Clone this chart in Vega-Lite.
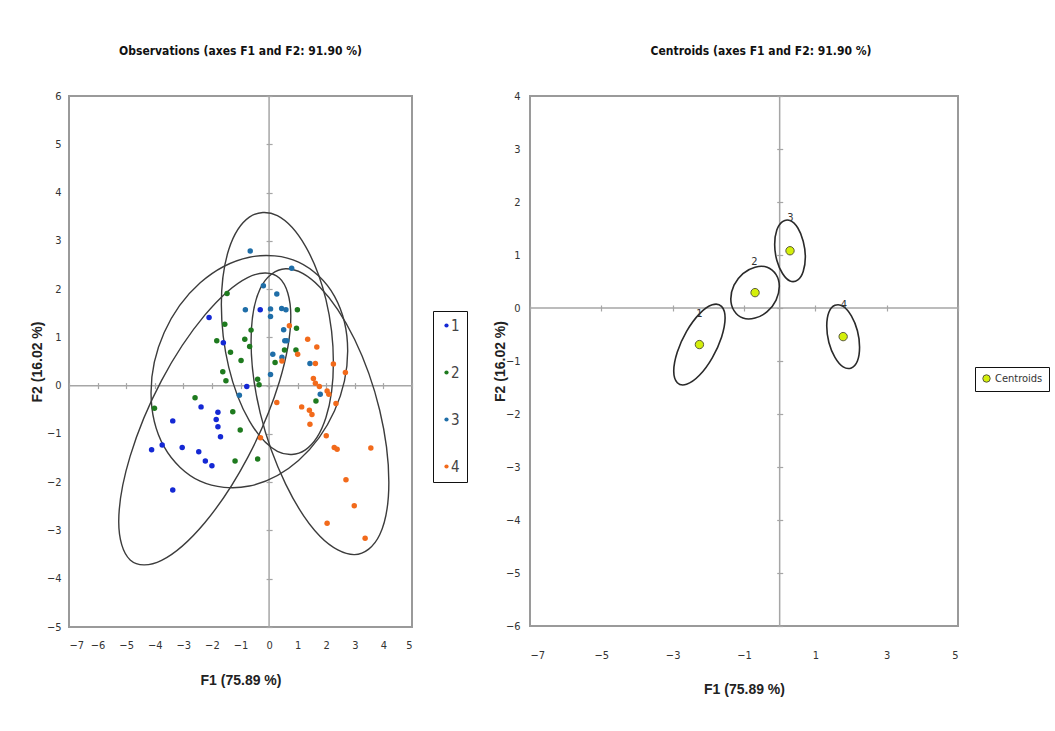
{
  "$schema": "https://vega.github.io/schema/vega-lite/v6.json",
  "background": "white",
  "padding": {"left": 29, "top": 44, "right": 5, "bottom": 5},
  "spacing": 78,
  "config": {
    "font": "'DejaVu Sans Condensed', 'Liberation Sans', sans-serif",
    "view": {"stroke": "#9a9a9a", "strokeWidth": 2},
    "axis": {"grid": false, "labelFont": "'DejaVu Sans Condensed', 'Liberation Sans', sans-serif", "labelFontSize": 11, "labelColor": "#333333", "titleFont": "'Liberation Sans', sans-serif", "titleFontSize": 14, "titleFontWeight": "bold", "titleColor": "#222222"},
    "legend": {"labelFont": "'DejaVu Sans Condensed', 'Liberation Sans', sans-serif"},
    "title": {"font": "'DejaVu Sans Condensed', 'Liberation Sans', sans-serif", "fontSize": 12, "fontWeight": "bold", "color": "#111111"}
  },
  "datasets": {
    "obs": [
      {"x": -0.31, "y": 1.57, "c": "1"}, {"x": -2.10, "y": 1.41, "c": "1"}, {"x": -1.60, "y": 0.89, "c": "1"}, {"x": -0.78, "y": -0.02, "c": "1"},
      {"x": -2.38, "y": -0.44, "c": "1"}, {"x": -1.79, "y": -0.55, "c": "1"}, {"x": -1.85, "y": -0.70, "c": "1"}, {"x": -1.79, "y": -0.85, "c": "1"},
      {"x": -3.37, "y": -0.73, "c": "1"}, {"x": -1.70, "y": -1.06, "c": "1"}, {"x": -4.11, "y": -1.33, "c": "1"}, {"x": -3.74, "y": -1.23, "c": "1"},
      {"x": -3.04, "y": -1.28, "c": "1"}, {"x": -2.46, "y": -1.37, "c": "1"}, {"x": -2.23, "y": -1.56, "c": "1"}, {"x": -2.00, "y": -1.66, "c": "1"},
      {"x": -3.37, "y": -2.16, "c": "1"},
      {"x": -1.47, "y": 1.91, "c": "2"}, {"x": -1.55, "y": 1.27, "c": "2"}, {"x": -1.83, "y": 0.93, "c": "2"}, {"x": -0.63, "y": 1.15, "c": "2"},
      {"x": -0.85, "y": 0.96, "c": "2"}, {"x": -0.68, "y": 0.81, "c": "2"}, {"x": -1.35, "y": 0.69, "c": "2"}, {"x": -0.98, "y": 0.52, "c": "2"},
      {"x": -1.62, "y": 0.29, "c": "2"}, {"x": -1.51, "y": 0.10, "c": "2"}, {"x": -0.40, "y": 0.13, "c": "2"}, {"x": -0.35, "y": 0.02, "c": "2"},
      {"x": 0.99, "y": 1.57, "c": "2"}, {"x": 0.96, "y": 1.19, "c": "2"}, {"x": 0.54, "y": 0.74, "c": "2"}, {"x": 0.94, "y": 0.74, "c": "2"},
      {"x": 0.21, "y": 0.48, "c": "2"}, {"x": 1.64, "y": -0.32, "c": "2"}, {"x": -0.40, "y": -1.52, "c": "2"}, {"x": -2.59, "y": -0.25, "c": "2"},
      {"x": -4.01, "y": -0.47, "c": "2"}, {"x": -1.27, "y": -0.54, "c": "2"}, {"x": -1.01, "y": -0.92, "c": "2"}, {"x": -1.19, "y": -1.56, "c": "2"},
      {"x": -0.66, "y": 2.79, "c": "3"}, {"x": -0.83, "y": 1.57, "c": "3"}, {"x": 0.79, "y": 2.43, "c": "3"}, {"x": -0.20, "y": 2.07, "c": "3"},
      {"x": 0.27, "y": 1.90, "c": "3"}, {"x": 0.05, "y": 1.59, "c": "3"}, {"x": 0.05, "y": 1.43, "c": "3"}, {"x": 0.44, "y": 1.60, "c": "3"},
      {"x": 0.59, "y": 1.57, "c": "3"}, {"x": 0.51, "y": 1.16, "c": "3"}, {"x": 0.55, "y": 0.93, "c": "3"}, {"x": 0.62, "y": 0.93, "c": "3"},
      {"x": 0.13, "y": 0.65, "c": "3"}, {"x": 0.45, "y": 0.59, "c": "3"}, {"x": 1.43, "y": 0.46, "c": "3"}, {"x": 0.05, "y": 0.23, "c": "3"},
      {"x": 1.79, "y": -0.18, "c": "3"}, {"x": -1.04, "y": -0.20, "c": "3"},
      {"x": 0.71, "y": 1.24, "c": "4"}, {"x": 1.35, "y": 0.96, "c": "4"}, {"x": 1.67, "y": 0.80, "c": "4"}, {"x": 1.00, "y": 0.65, "c": "4"},
      {"x": 0.45, "y": 0.51, "c": "4"}, {"x": 1.62, "y": 0.46, "c": "4"}, {"x": 2.25, "y": 0.45, "c": "4"}, {"x": 2.67, "y": 0.27, "c": "4"},
      {"x": 1.55, "y": 0.15, "c": "4"}, {"x": 1.62, "y": 0.05, "c": "4"}, {"x": 1.76, "y": -0.02, "c": "4"}, {"x": 2.03, "y": -0.11, "c": "4"},
      {"x": 2.09, "y": -0.18, "c": "4"}, {"x": 2.34, "y": -0.37, "c": "4"}, {"x": 0.27, "y": -0.35, "c": "4"}, {"x": 1.14, "y": -0.44, "c": "4"},
      {"x": 1.41, "y": -0.51, "c": "4"}, {"x": 1.50, "y": -0.60, "c": "4"}, {"x": 1.43, "y": -0.80, "c": "4"}, {"x": 2.00, "y": -1.04, "c": "4"},
      {"x": -0.30, "y": -1.08, "c": "4"}, {"x": 2.28, "y": -1.28, "c": "4"}, {"x": 2.38, "y": -1.32, "c": "4"}, {"x": 3.56, "y": -1.29, "c": "4"},
      {"x": 2.69, "y": -1.95, "c": "4"}, {"x": 2.98, "y": -2.49, "c": "4"}, {"x": 2.03, "y": -2.85, "c": "4"}, {"x": 3.36, "y": -3.16, "c": "4"}
    ],
    "ellL": [
      {"e": "1", "i": 0, "x": 0.76, "y": 1.44}, {"e": "1", "i": 1, "x": 0.36, "y": 0.08}, {"e": "1", "i": 2, "x": -0.75, "y": -1.49}, {"e": "1", "i": 3, "x": -2.25, "y": -2.84},
      {"e": "1", "i": 4, "x": -3.76, "y": -3.62}, {"e": "1", "i": 5, "x": -4.86, "y": -3.61}, {"e": "1", "i": 6, "x": -5.26, "y": -2.82}, {"e": "1", "i": 7, "x": -4.86, "y": -1.46},
      {"e": "1", "i": 8, "x": -3.76, "y": 0.11}, {"e": "1", "i": 9, "x": -2.25, "y": 1.46}, {"e": "1", "i": 10, "x": -0.75, "y": 2.24}, {"e": "1", "i": 11, "x": 0.36, "y": 2.23},
      {"e": "2", "i": 0, "x": 2.75, "y": 0.72}, {"e": "2", "i": 1, "x": 2.29, "y": -0.52}, {"e": "2", "i": 2, "x": 1.03, "y": -1.55}, {"e": "2", "i": 3, "x": -0.69, "y": -2.08},
      {"e": "2", "i": 4, "x": -2.41, "y": -1.98}, {"e": "2", "i": 5, "x": -3.67, "y": -1.27}, {"e": "2", "i": 6, "x": -4.13, "y": -0.14}, {"e": "2", "i": 7, "x": -3.67, "y": 1.10},
      {"e": "2", "i": 8, "x": -2.41, "y": 2.13}, {"e": "2", "i": 9, "x": -0.69, "y": 2.66}, {"e": "2", "i": 10, "x": 1.03, "y": 2.56}, {"e": "2", "i": 11, "x": 2.29, "y": 1.85},
      {"e": "3", "i": 0, "x": 2.25, "y": 0.48}, {"e": "3", "i": 1, "x": 1.99, "y": -0.66}, {"e": "3", "i": 2, "x": 1.27, "y": -1.33}, {"e": "3", "i": 3, "x": 0.29, "y": -1.36},
      {"e": "3", "i": 4, "x": -0.69, "y": -0.73}, {"e": "3", "i": 5, "x": -1.41, "y": 0.38}, {"e": "3", "i": 6, "x": -1.67, "y": 1.68}, {"e": "3", "i": 7, "x": -1.41, "y": 2.82},
      {"e": "3", "i": 8, "x": -0.69, "y": 3.49}, {"e": "3", "i": 9, "x": 0.29, "y": 3.52}, {"e": "3", "i": 10, "x": 1.27, "y": 2.89}, {"e": "3", "i": 11, "x": 1.99, "y": 1.78},
      {"e": "4", "i": 0, "x": 4.19, "y": -2.00}, {"e": "4", "i": 1, "x": 3.87, "y": -3.09}, {"e": "4", "i": 2, "x": 2.99, "y": -3.50}, {"e": "4", "i": 3, "x": 1.78, "y": -3.12},
      {"e": "4", "i": 4, "x": 0.58, "y": -2.04}, {"e": "4", "i": 5, "x": -0.31, "y": -0.57}, {"e": "4", "i": 6, "x": -0.63, "y": 0.92}, {"e": "4", "i": 7, "x": -0.31, "y": 2.01},
      {"e": "4", "i": 8, "x": 0.58, "y": 2.42}, {"e": "4", "i": 9, "x": 1.78, "y": 2.04}, {"e": "4", "i": 10, "x": 2.99, "y": 0.96}, {"e": "4", "i": 11, "x": 3.87, "y": -0.51}
    ],
    "ellR": [
      {"e": "1", "i": 0, "x": -1.53, "y": -0.19}, {"e": "1", "i": 1, "x": -1.63, "y": -0.55}, {"e": "1", "i": 2, "x": -1.89, "y": -0.94}, {"e": "1", "i": 3, "x": -2.25, "y": -1.27},
      {"e": "1", "i": 4, "x": -2.61, "y": -1.44}, {"e": "1", "i": 5, "x": -2.87, "y": -1.41}, {"e": "1", "i": 6, "x": -2.97, "y": -1.19}, {"e": "1", "i": 7, "x": -2.87, "y": -0.83},
      {"e": "1", "i": 8, "x": -2.61, "y": -0.44}, {"e": "1", "i": 9, "x": -2.25, "y": -0.11}, {"e": "1", "i": 10, "x": -1.89, "y": 0.06}, {"e": "1", "i": 11, "x": -1.63, "y": 0.03},
      {"e": "2", "i": 0, "x": -0.01, "y": 0.41}, {"e": "2", "i": 1, "x": -0.10, "y": 0.15}, {"e": "2", "i": 2, "x": -0.35, "y": -0.07}, {"e": "2", "i": 3, "x": -0.69, "y": -0.19},
      {"e": "2", "i": 4, "x": -1.03, "y": -0.19}, {"e": "2", "i": 5, "x": -1.28, "y": -0.05}, {"e": "2", "i": 6, "x": -1.37, "y": 0.17}, {"e": "2", "i": 7, "x": -1.28, "y": 0.43},
      {"e": "2", "i": 8, "x": -1.03, "y": 0.65}, {"e": "2", "i": 9, "x": -0.69, "y": 0.77}, {"e": "2", "i": 10, "x": -0.35, "y": 0.77}, {"e": "2", "i": 11, "x": -0.10, "y": 0.63},
      {"e": "3", "i": 0, "x": 0.72, "y": 0.96}, {"e": "3", "i": 1, "x": 0.66, "y": 0.69}, {"e": "3", "i": 2, "x": 0.51, "y": 0.53}, {"e": "3", "i": 3, "x": 0.29, "y": 0.51},
      {"e": "3", "i": 4, "x": 0.08, "y": 0.65}, {"e": "3", "i": 5, "x": -0.08, "y": 0.90}, {"e": "3", "i": 6, "x": -0.14, "y": 1.20}, {"e": "3", "i": 7, "x": -0.08, "y": 1.47},
      {"e": "3", "i": 8, "x": 0.08, "y": 1.63}, {"e": "3", "i": 9, "x": 0.29, "y": 1.65}, {"e": "3", "i": 10, "x": 0.51, "y": 1.51}, {"e": "3", "i": 11, "x": 0.66, "y": 1.26},
      {"e": "4", "i": 0, "x": 2.24, "y": -0.74}, {"e": "4", "i": 1, "x": 2.18, "y": -1.00}, {"e": "4", "i": 2, "x": 2.01, "y": -1.13}, {"e": "4", "i": 3, "x": 1.78, "y": -1.11},
      {"e": "4", "i": 4, "x": 1.55, "y": -0.93}, {"e": "4", "i": 5, "x": 1.38, "y": -0.65}, {"e": "4", "i": 6, "x": 1.32, "y": -0.34}, {"e": "4", "i": 7, "x": 1.38, "y": -0.08},
      {"e": "4", "i": 8, "x": 1.55, "y": 0.05}, {"e": "4", "i": 9, "x": 1.78, "y": 0.03}, {"e": "4", "i": 10, "x": 2.01, "y": -0.15}, {"e": "4", "i": 11, "x": 2.18, "y": -0.43}
    ],
    "cent": [
      {"x": -2.25, "y": -0.69, "s": "Centroids"}, {"x": -0.69, "y": 0.29, "s": "Centroids"},
      {"x": 0.29, "y": 1.08, "s": "Centroids"}, {"x": 1.78, "y": -0.54, "s": "Centroids"}
    ],
    "lab": [
      {"t": "1", "x": -2.25, "y": -0.11}, {"t": "2", "x": -0.71, "y": 0.86},
      {"t": "3", "x": 0.30, "y": 1.70}, {"t": "4", "x": 1.80, "y": 0.05}
    ]
  },
  "hconcat": [
    {
      "width": 343,
      "height": 531,
      "title": {"text": "Observations (axes F1 and F2: 91.90 %)", "offset": 32},
      "resolve": {"axis": {"x": "independent", "y": "independent"}},
      "layer": [
        {
          "data": {"values": [{}]},
          "mark": {"type": "rule", "color": "#a6a6a6", "strokeWidth": 1.5},
          "encoding": {
            "x": {"datum": 0, "type": "quantitative", "scale": {"domain": [-7, 5], "nice": false, "zero": false},
              "axis": {"orient": "bottom", "offset": -244.4, "labels": false, "domain": false, "ticks": true, "tickSize": 6, "tickColor": "#a6a6a6", "tickWidth": 1.2, "values": [-7, -6, -5, -4, -3, -2, -1, 0, 1, 2, 3, 4, 5], "title": null}}
          }
        },
        {
          "data": {"values": [{}]},
          "mark": {"type": "rule", "color": "#a6a6a6", "strokeWidth": 1.5},
          "encoding": {
            "y": {"datum": 0, "type": "quantitative", "scale": {"domain": [-5, 6], "nice": false, "zero": false},
              "axis": {"orient": "left", "offset": -203.1, "labels": false, "domain": false, "ticks": true, "tickSize": 6, "tickColor": "#a6a6a6", "tickWidth": 1.2, "values": [-5, -4, -3, -2, -1, 0, 1, 2, 3, 4, 5, 6], "title": null}}
          }
        },
        {
          "data": {"name": "ellL"},
          "mark": {"type": "line", "interpolate": "cardinal-closed", "color": "#3c3c3c", "strokeWidth": 1.4},
          "encoding": {
            "x": {"field": "x", "type": "quantitative", "axis": null},
            "y": {"field": "y", "type": "quantitative", "axis": null},
            "detail": {"field": "e"},
            "order": {"field": "i"}
          }
        },
        {
          "data": {"name": "obs"},
          "mark": {"type": "circle", "size": 30, "opacity": 1},
          "encoding": {
            "x": {"field": "x", "type": "quantitative",
              "axis": {"orient": "bottom", "title": "F1 (75.89 %)", "values": [-7, -6, -5, -4, -3, -2, -1, 0, 1, 2, 3, 4, 5], "domain": false, "ticks": false, "tickSize": 0, "labelPadding": 12, "titlePadding": 23}},
            "y": {"field": "y", "type": "quantitative",
              "axis": {"orient": "left", "title": "F2 (16.02 %)", "values": [-5, -4, -3, -2, -1, 0, 1, 2, 3, 4, 5, 6], "domain": false, "ticks": false, "tickSize": 0, "labelPadding": 8, "titlePadding": 2}},
            "color": {"field": "c", "type": "nominal",
              "scale": {"domain": ["1", "2", "3", "4"], "range": ["#1428d4", "#1e7a1e", "#1f6ea8", "#f26a1b"]},
              "legend": {"orient": "none", "legendX": 364, "legendY": 215, "title": null, "strokeColor": "#111111", "padding": 7, "rowPadding": 31, "symbolSize": 18, "symbolOffset": -1, "symbolType": "circle", "labelFontSize": 15, "labelColor": "#444444", "labelOffset": -3,
                "encode": {"legend": {"update": {"strokeWidth": {"value": 2}}}}}}
          }
        }
      ]
    },
    {
      "width": 428,
      "height": 530,
      "title": {"text": "Centroids (axes F1 and F2: 91.90 %)", "offset": 32, "dx": 17},
      "resolve": {"axis": {"x": "independent", "y": "independent"}},
      "layer": [
        {
          "data": {"values": [{}]},
          "mark": {"type": "rule", "color": "#a6a6a6", "strokeWidth": 1.5},
          "encoding": {
            "x": {"datum": 0, "type": "quantitative", "scale": {"domain": [-7, 5], "nice": false, "zero": false},
              "axis": {"orient": "bottom", "offset": -321, "labels": false, "domain": false, "ticks": true, "tickSize": 6, "tickColor": "#a6a6a6", "tickWidth": 1.2, "values": [-7, -5, -3, -1, 1, 3, 5], "title": null}}
          }
        },
        {
          "data": {"values": [{}]},
          "mark": {"type": "rule", "color": "#a6a6a6", "strokeWidth": 1.5},
          "encoding": {
            "y": {"datum": 0, "type": "quantitative", "scale": {"domain": [-6, 4], "nice": false, "zero": false},
              "axis": {"orient": "left", "offset": -252.7, "labels": false, "domain": false, "ticks": true, "tickSize": 6, "tickColor": "#a6a6a6", "tickWidth": 1.2, "values": [-6, -5, -4, -3, -2, -1, 0, 1, 2, 3, 4], "title": null}}
          }
        },
        {
          "data": {"name": "ellR"},
          "mark": {"type": "line", "interpolate": "cardinal-closed", "color": "#2a2a2a", "strokeWidth": 1.6},
          "encoding": {
            "x": {"field": "x", "type": "quantitative", "axis": null},
            "y": {"field": "y", "type": "quantitative", "axis": null},
            "detail": {"field": "e"},
            "order": {"field": "i"}
          }
        },
        {
          "data": {"name": "lab"},
          "mark": {"type": "text", "fontSize": 11, "color": "#333333"},
          "encoding": {
            "x": {"field": "x", "type": "quantitative", "axis": null},
            "y": {"field": "y", "type": "quantitative", "axis": null},
            "text": {"field": "t"}
          }
        },
        {
          "data": {"name": "cent"},
          "mark": {"type": "point", "filled": true, "size": 70, "stroke": "#5a5a3c", "strokeWidth": 1, "opacity": 1},
          "encoding": {
            "x": {"field": "x", "type": "quantitative",
              "axis": {"orient": "bottom", "title": "F1 (75.89 %)", "values": [-7, -5, -3, -1, 1, 3, 5], "domain": false, "ticks": false, "tickSize": 0, "labelPadding": 23, "titlePadding": 22}},
            "y": {"field": "y", "type": "quantitative",
              "axis": {"orient": "left", "title": "F2 (16.02 %)", "values": [-6, -5, -4, -3, -2, -1, 0, 1, 2, 3, 4], "domain": false, "ticks": false, "tickSize": 0, "labelPadding": 10, "titlePadding": -2}},
            "fill": {"field": "s", "type": "nominal", "scale": {"range": ["#d4ef0a"]},
              "legend": {"orient": "none", "legendX": 906, "legendY": 271, "title": null, "strokeColor": "#111111", "padding": 6, "symbolSize": 55, "symbolType": "circle", "symbolStrokeColor": "#5a5a3c", "symbolStrokeWidth": 1, "labelFontSize": 11, "labelColor": "#333333", "labelOffset": 3,
                "encode": {"legend": {"update": {"strokeWidth": {"value": 2}}}}}}
          }
        }
      ]
    }
  ]
}
